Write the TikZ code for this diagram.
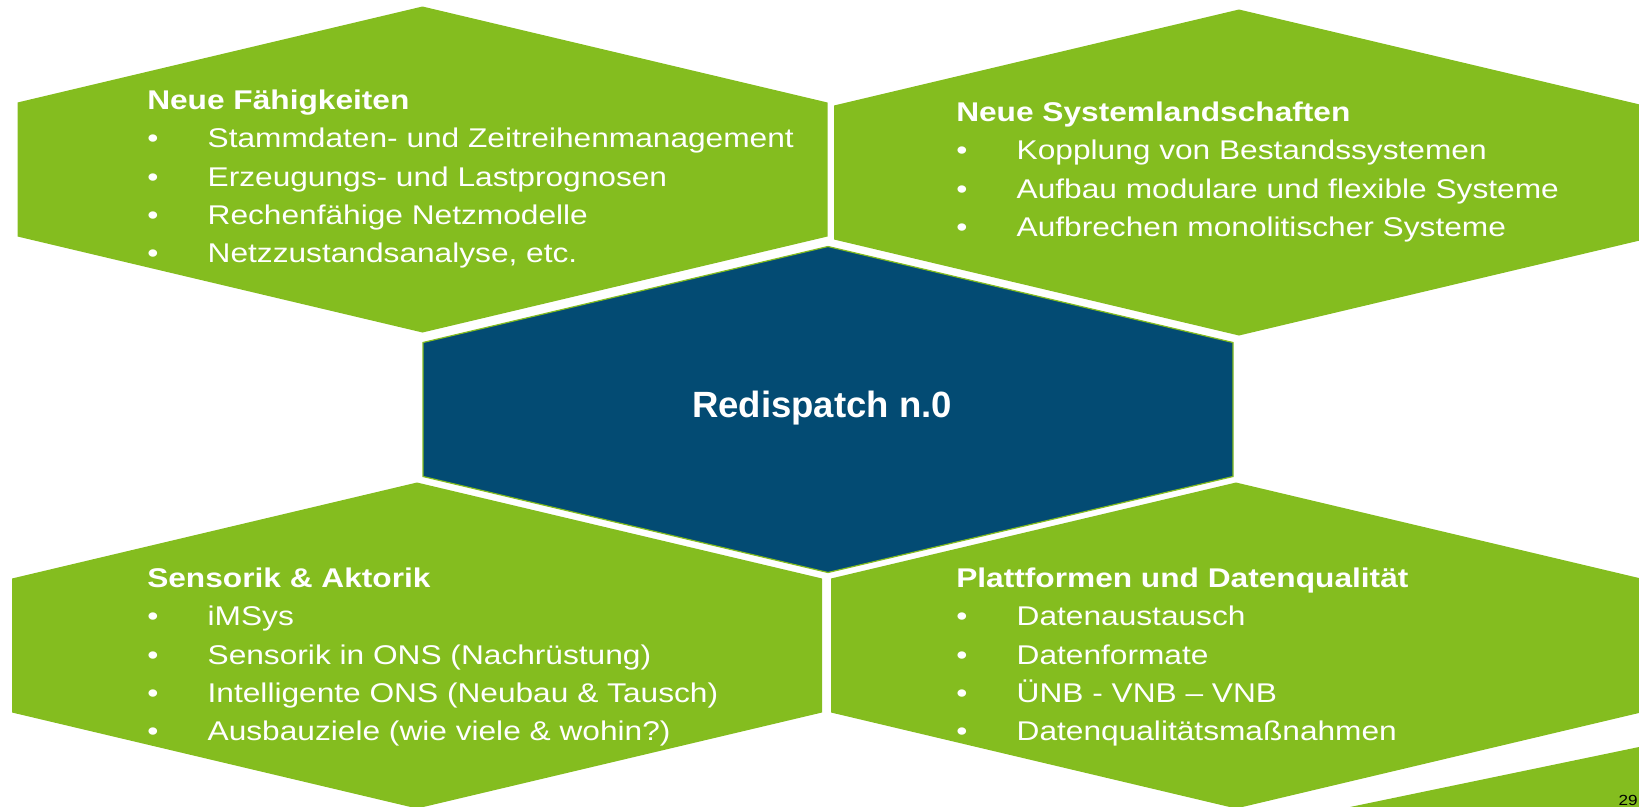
\documentclass[tikz,border=0pt]{standalone}
\usepackage{fontspec}
\setmainfont{Liberation Sans}
\newfontfamily\stretchfont{Liberation Sans}[FakeStretch=1.17]
\definecolor{hexgreen}{RGB}{132,189,31}
\definecolor{hexblue}{RGB}{3,75,115}

\begin{document}
\begin{tikzpicture}[x=0.75pt,y=-0.75pt]

\tikzset{hexagon/.style = {insert path={(-405,-67) -- (0,-163) -- (405,-67) -- (405,67) -- (0,163) -- (-405,67) -- cycle}}}
\tikzset{topic/.style = {anchor=base west, inner sep=0pt, text=white, font=\stretchfont\fontsize{20.3}{28.7}\selectfont}}
\newcommand{\topiclist}[2]{\begin{tabular}[t]{@{}p{45.3pt}@{}l@{}}\multicolumn{2}{@{}l@{}}{\bfseries #1}\\ #2\end{tabular}}

\useasboundingbox (0,0) rectangle (1639,807);
\clip (0,0) rectangle (1639,807);

%hexagons
\fill[hexgreen, shift={(422.5,169.5)}, hexagon];
\fill[hexgreen, shift={(1239,172.5)}, hexagon];
\fill[hexgreen, shift={(417,645.5)}, hexagon];
\fill[hexgreen, shift={(1236,645.5)}, hexagon];
\fill[hexgreen] (1350,807) -- (1639,747) -- (1639,807) -- cycle;
\filldraw[fill=hexblue, draw=hexgreen, line width=0.9pt, shift={(828,409.5)}, hexagon];

%texts
\node[topic] (faehig) at (147,109.5) {\topiclist{Neue Fähigkeiten}{%
  • & Stammdaten- und Zeitreihenmanagement\\
  • & Erzeugungs- und Lastprognosen\\
  • & Rechenfähige Netzmodelle\\
  • & Netzzustandsanalyse, etc.}};
\node[topic] (system) at (956,121.5) {\topiclist{Neue Systemlandschaften}{%
  • & Kopplung von Bestandssystemen\\
  • & Aufbau modulare und flexible Systeme\\
  • & Aufbrechen monolitischer Systeme}};
\node[topic] (sensorik) at (147,587.5) {\topiclist{Sensorik \& Aktorik}{%
  • & iMSys\\
  • & Sensorik in ONS (Nachrüstung)\\
  • & Intelligente ONS (Neubau \& Tausch)\\
  • & Ausbauziele (wie viele \& wohin?)}};
\node[topic] (plattform) at (956,587.5) {\topiclist{Plattformen und Datenqualität}{%
  • & Datenaustausch\\
  • & Datenformate\\
  • & ÜNB - VNB – VNB\\
  • & Datenqualitätsmaßnahmen}};
\node[anchor=base, inner sep=0pt, text=white, font=\bfseries\fontsize{27.4}{32}\selectfont] (redispatch) at (822,417.7) {Redispatch n.0};
\node[anchor=south east, inner sep=0pt, font=\stretchfont\fontsize{11}{13}\selectfont] (seite) at (1638,805.5) {29};

\end{tikzpicture}
\end{document}
